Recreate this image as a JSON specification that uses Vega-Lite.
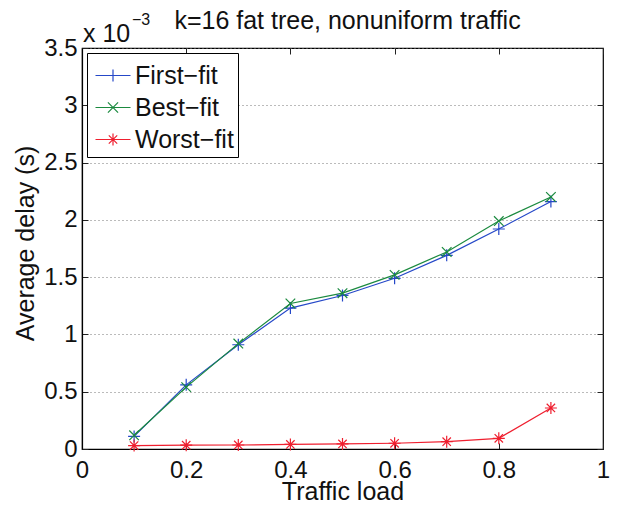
{
  "$schema": "https://vega.github.io/schema/vega-lite/v6.json",
  "width": 521,
  "height": 401,
  "autosize": {"type": "none"},
  "padding": {"left": 82, "top": 48, "right": 16, "bottom": 57},
  "background": "white",
  "config": {
    "font": "Liberation Sans",
    "view": {"stroke": "black", "strokeWidth": 1.2},
    "axis": {
      "labelFont": "Liberation Sans",
      "labelFontSize": 24,
      "labelColor": "#111111",
      "labelFlush": false,
      "labelOverlap": false,
      "domainColor": "black",
      "domainWidth": 1.2,
      "tickColor": "#222222",
      "tickWidth": 1,
      "titleFont": "Liberation Sans",
      "titleFontSize": 25,
      "titleFontWeight": "normal",
      "titleColor": "#111111"
    }
  },
  "title": {
    "text": "k=16 fat tree, nonuniform traffic",
    "font": "Liberation Sans",
    "fontSize": 25,
    "fontWeight": "normal",
    "color": "#111111",
    "frame": "group",
    "anchor": "middle",
    "dx": 5,
    "dy": 22,
    "offset": 0
  },
  "resolve": {"axis": {"x": "independent", "y": "independent"}},
  "data": {
    "values": [
      {"load": 0.1, "delay": 0.11, "series": "First−fit"},
      {"load": 0.2, "delay": 0.56, "series": "First−fit"},
      {"load": 0.3, "delay": 0.91, "series": "First−fit"},
      {"load": 0.4, "delay": 1.23, "series": "First−fit"},
      {"load": 0.5, "delay": 1.34, "series": "First−fit"},
      {"load": 0.6, "delay": 1.49, "series": "First−fit"},
      {"load": 0.7, "delay": 1.69, "series": "First−fit"},
      {"load": 0.8, "delay": 1.92, "series": "First−fit"},
      {"load": 0.9, "delay": 2.16, "series": "First−fit"},
      {"load": 0.1, "delay": 0.12, "series": "Best−fit"},
      {"load": 0.2, "delay": 0.54, "series": "Best−fit"},
      {"load": 0.3, "delay": 0.92, "series": "Best−fit"},
      {"load": 0.4, "delay": 1.27, "series": "Best−fit"},
      {"load": 0.5, "delay": 1.36, "series": "Best−fit"},
      {"load": 0.6, "delay": 1.52, "series": "Best−fit"},
      {"load": 0.7, "delay": 1.72, "series": "Best−fit"},
      {"load": 0.8, "delay": 1.99, "series": "Best−fit"},
      {"load": 0.9, "delay": 2.2, "series": "Best−fit"},
      {"load": 0.1, "delay": 0.03, "series": "Worst−fit"},
      {"load": 0.2, "delay": 0.033, "series": "Worst−fit"},
      {"load": 0.3, "delay": 0.035, "series": "Worst−fit"},
      {"load": 0.4, "delay": 0.04, "series": "Worst−fit"},
      {"load": 0.5, "delay": 0.044, "series": "Worst−fit"},
      {"load": 0.6, "delay": 0.05, "series": "Worst−fit"},
      {"load": 0.7, "delay": 0.064, "series": "Worst−fit"},
      {"load": 0.8, "delay": 0.093, "series": "Worst−fit"},
      {"load": 0.9, "delay": 0.358, "series": "Worst−fit"}
    ]
  },
  "layer": [
    {
      "mark": {"type": "line", "strokeWidth": 1.2},
      "encoding": {
        "x": {
          "field": "load", "type": "quantitative",
          "scale": {"domain": [0, 1], "nice": false, "zero": false},
          "axis": {
            "orient": "bottom",
            "title": "Traffic load",
            "values": [0, 0.2, 0.4, 0.6, 0.8, 1],
            "format": "~g",
            "grid": false,
            "tickSize": -6,
            "labelPadding": 15,
            "titleY": 50,
            "titleBaseline": "alphabetic"
          }
        },
        "y": {
          "field": "delay", "type": "quantitative",
          "scale": {"domain": [0, 3.5], "nice": false, "zero": false},
          "axis": {
            "orient": "left",
            "title": "Average delay (s)",
            "values": [0, 0.5, 1, 1.5, 2, 2.5, 3, 3.5],
            "format": "~g",
            "grid": true,
            "gridDash": [1, 3],
            "gridColor": "#777777",
            "gridWidth": 1,
            "tickSize": -6,
            "labelPadding": 11,
            "titleX": -49,
            "titleY": 195,
            "titleBaseline": "alphabetic"
          }
        },
        "color": {
          "field": "series", "type": "nominal",
          "scale": {
            "domain": ["First−fit", "Best−fit", "Worst−fit"],
            "range": ["#2548c8", "#1b8a3f", "#ef1f2f"]
          },
          "legend": {
            "title": null,
            "orient": "none",
            "legendX": 5,
            "legendY": 5,
            "strokeColor": "black",
            "fillColor": "white",
            "padding": 4,
            "symbolSize": 1225,
            "symbolStrokeWidth": 1.2,
            "labelFont": "Liberation Sans",
            "labelFontSize": 25,
            "labelColor": "#111111",
            "labelOffset": 7,
            "rowPadding": -12,
            "encode": {
              "symbols": {
                "update": {
                  "shape": {
                    "signal": "indexof(datum.value, 'First') >= 0 ? 'M-0.8,0H1.2M0.2,-0.34V0.34' : (indexof(datum.value, 'Best') >= 0 ? 'M-0.8,0H1.2M-0.09,-0.29L0.49,0.29M-0.09,0.29L0.49,-0.29' : 'M-0.8,0H1.2M0.2,-0.34V0.34M-0.04,-0.24L0.44,0.24M-0.04,0.24L0.44,-0.24')"
                  }
                }
              }
            }
          }
        }
      }
    },
    {
      "transform": [{"filter": "datum.series === 'First−fit'"}],
      "mark": {"type": "point", "filled": false, "strokeWidth": 1.2, "size": 144, "opacity": 1, "shape": "M-1,0H1M0,-1V1"},
      "encoding": {
        "x": {
          "field": "load", "type": "quantitative",
          "axis": {"orient": "top", "labels": false, "title": null, "domain": false, "grid": false, "tickSize": -6, "values": [0, 0.2, 0.4, 0.6, 0.8, 1]}
        },
        "y": {
          "field": "delay", "type": "quantitative",
          "axis": {"orient": "right", "labels": false, "title": null, "domain": false, "grid": false, "tickSize": -6, "values": [0, 0.5, 1, 1.5, 2, 2.5, 3, 3.5]}
        },
        "color": {"field": "series", "type": "nominal", "legend": null}
      }
    },
    {
      "transform": [{"filter": "datum.series === 'Best−fit'"}],
      "mark": {"type": "point", "filled": false, "strokeWidth": 1.2, "size": 144, "opacity": 1, "shape": "M-0.8,-0.8L0.8,0.8M-0.8,0.8L0.8,-0.8"},
      "encoding": {
        "x": {"field": "load", "type": "quantitative", "axis": null},
        "y": {"field": "delay", "type": "quantitative", "axis": null},
        "color": {"field": "series", "type": "nominal", "legend": null}
      }
    },
    {
      "transform": [{"filter": "datum.series === 'Worst−fit'"}],
      "mark": {"type": "point", "filled": false, "strokeWidth": 1.2, "size": 144, "opacity": 1, "shape": "M-1,0H1M0,-1V1M-0.7,-0.7L0.7,0.7M-0.7,0.7L0.7,-0.7"},
      "encoding": {
        "x": {"field": "load", "type": "quantitative", "axis": null},
        "y": {"field": "delay", "type": "quantitative", "axis": null},
        "color": {"field": "series", "type": "nominal", "legend": null}
      }
    },
    {
      "data": {"values": [{"label": "x 10"}]},
      "mark": {"type": "text", "align": "left", "baseline": "alphabetic", "dx": 1, "dy": -6, "fontSize": 25, "font": "Liberation Sans", "color": "#111111"},
      "encoding": {
        "x": {"datum": 0, "type": "quantitative", "axis": null},
        "y": {"datum": 3.5, "type": "quantitative", "axis": null},
        "text": {"field": "label"}
      }
    },
    {
      "data": {"values": [{"label": "−3"}]},
      "mark": {"type": "text", "align": "left", "baseline": "alphabetic", "dx": 50, "dy": -23, "fontSize": 16, "font": "Liberation Sans", "color": "#111111"},
      "encoding": {
        "x": {"datum": 0, "type": "quantitative", "axis": null},
        "y": {"datum": 3.5, "type": "quantitative", "axis": null},
        "text": {"field": "label"}
      }
    }
  ]
}
